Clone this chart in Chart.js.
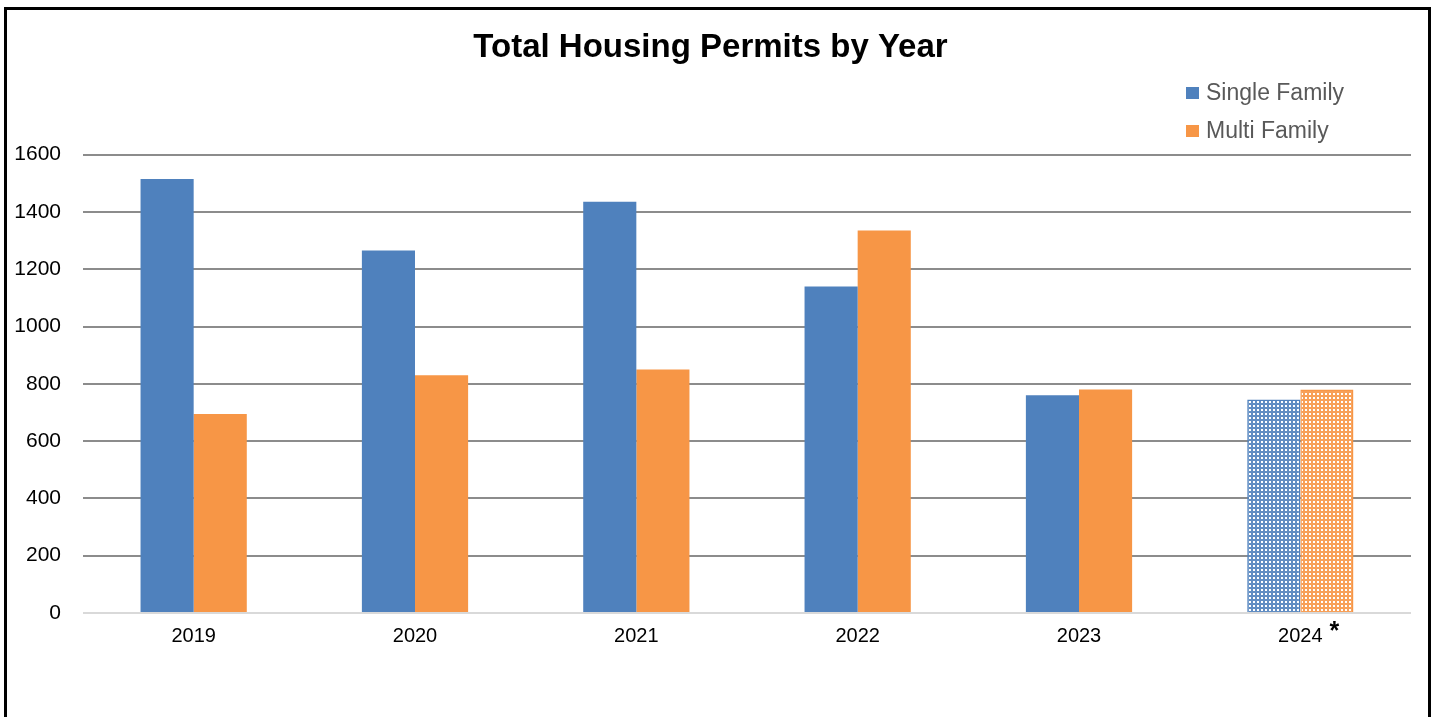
<!DOCTYPE html>
<html>
<head>
<meta charset="utf-8">
<script src="https://cdn.jsdelivr.net/npm/chart.js@4"></script>
<style>
  html, body { margin: 0; padding: 0; background: #fff; overflow: hidden; }
  #wrap { position: relative; width: 1435px; height: 717px; }
  #frame { position: absolute; left: 4px; top: 7px; width: 1421px; height: 730px;
           border: 3px solid #000; pointer-events: none; }
</style>
</head>
<body>
<div id="wrap">
  <canvas id="chartPermits" width="1435" height="717"></canvas>
  <div id="frame"></div>
</div>
<script>
// data
var years = ['2019', '2020', '2021', '2022', '2023', '2024'];
var singleFamily = [1515, 1265, 1435, 1140, 760, 745];
var multiFamily = [695, 830, 850, 1335, 780, 780];
var yTicks = [0, 200, 400, 600, 800, 1000, 1200, 1400, 1600];
var estimatedYear = '2024'; // drawn hatched and marked with *

var FONT = '"Liberation Sans", Arial, sans-serif';
var BLUE = '#4F81BD', ORANGE = '#F79646';

function checker(color) {
  var c = document.createElement('canvas');
  c.width = 4; c.height = 4;
  var g = c.getContext('2d');
  g.fillStyle = '#ffffff';
  g.fillRect(0, 0, 4, 4);
  g.globalAlpha = 0.9;
  g.fillStyle = color;
  g.fillRect(0, 0, 4, 4);
  g.globalAlpha = 1;
  g.fillStyle = '#ffffff';
  g.fillRect(1, 1, 2, 2);
  return g.createPattern(c, 'repeat');
}

function fills(color) {
  var pat = checker(color);
  return years.map(function (y) { return y === estimatedYear ? pat : color; });
}
function borders(color) {
  return years.map(function (y) { return y === estimatedYear ? 1.5 : 0; });
}

// legend drawn as a vertical list at the top right
var sideLegend = {
  id: 'sideLegend',
  afterDraw: function (chart) {
    var ctx = chart.ctx;
    ctx.save();
    ctx.font = '23px ' + FONT;
    ctx.textBaseline = 'middle';
    ctx.textAlign = 'left';
    chart.data.datasets.forEach(function (ds, i) {
      var y = 93 + i * 38;
      ctx.fillStyle = ds.legendColor;
      ctx.fillRect(1186, y - 6, 13, 12);
      ctx.fillStyle = '#595959';
      ctx.fillText(ds.label, 1206, y + 1);
    });
    ctx.restore();
  }
};

// asterisk after the estimated year label
var starMark = {
  id: 'starMark',
  afterDraw: function (chart) {
    var xs = chart.scales.x;
    var idx = years.indexOf(estimatedYear);
    var ctx = chart.ctx;
    ctx.save();
    ctx.font = '20px ' + FONT;
    var w = ctx.measureText(estimatedYear).width;
    ctx.font = 'bold 25px ' + FONT;
    ctx.fillStyle = '#000';
    ctx.textAlign = 'left';
    ctx.textBaseline = 'middle';
    ctx.fillText('*', xs.getPixelForValue(idx) + w / 2 + 7, xs.top + 19);
    ctx.restore();
  }
};

var ctx = document.getElementById('chartPermits').getContext('2d');
var myChart = new Chart(ctx, {
  type: 'bar',
  data: {
    labels: years,
    datasets: [{
        label: 'Single Family',
        data: singleFamily,
        backgroundColor: fills(BLUE),
        borderColor: BLUE,
        borderWidth: borders(BLUE),
        legendColor: BLUE
      }, {
        label: 'Multi Family',
        data: multiFamily,
        backgroundColor: fills(ORANGE),
        borderColor: ORANGE,
        borderWidth: borders(ORANGE),
        legendColor: ORANGE
      }
    ]
  },
  options: {
    responsive: false,
    animation: false,
    layout: { padding: { left: 10, right: 24, top: 0, bottom: 66 } },
    datasets: { bar: { categoryPercentage: 0.48, barPercentage: 1 } },
    plugins: {
      legend: { display: false },
      tooltip: { enabled: false },
      title: {
        display: true,
        text: 'Total Housing Permits by Year',
        color: '#000',
        font: { family: FONT, size: 33, weight: 'bold' },
        padding: { top: 28, bottom: 87 }
      }
    },
    scales: {
      x: {
        grid: { display: false },
        border: { display: false },
        ticks: { color: '#000', font: { family: FONT, size: 20 }, padding: 3 }
      },
      y: {
        min: 0,
        max: 1600,
        afterBuildTicks: function (s) { s.ticks = yTicks.map(function (v) { return { value: v }; }); },
        afterFit: function (s) { s.width = 73; },
        grid: {
          drawTicks: false,
          lineWidth: 2,
          color: function (c) { return c.tick && c.tick.value === 0 ? '#d9d9d9' : '#8c8c8c'; }
        },
        border: { display: false },
        ticks: {
          color: '#000',
          font: { family: FONT, size: 21 },
          padding: 22,
          callback: function (v) { return String(v); }
        }
      }
    }
  },
  plugins: [sideLegend, starMark]
});
</script>
</body>
</html>
